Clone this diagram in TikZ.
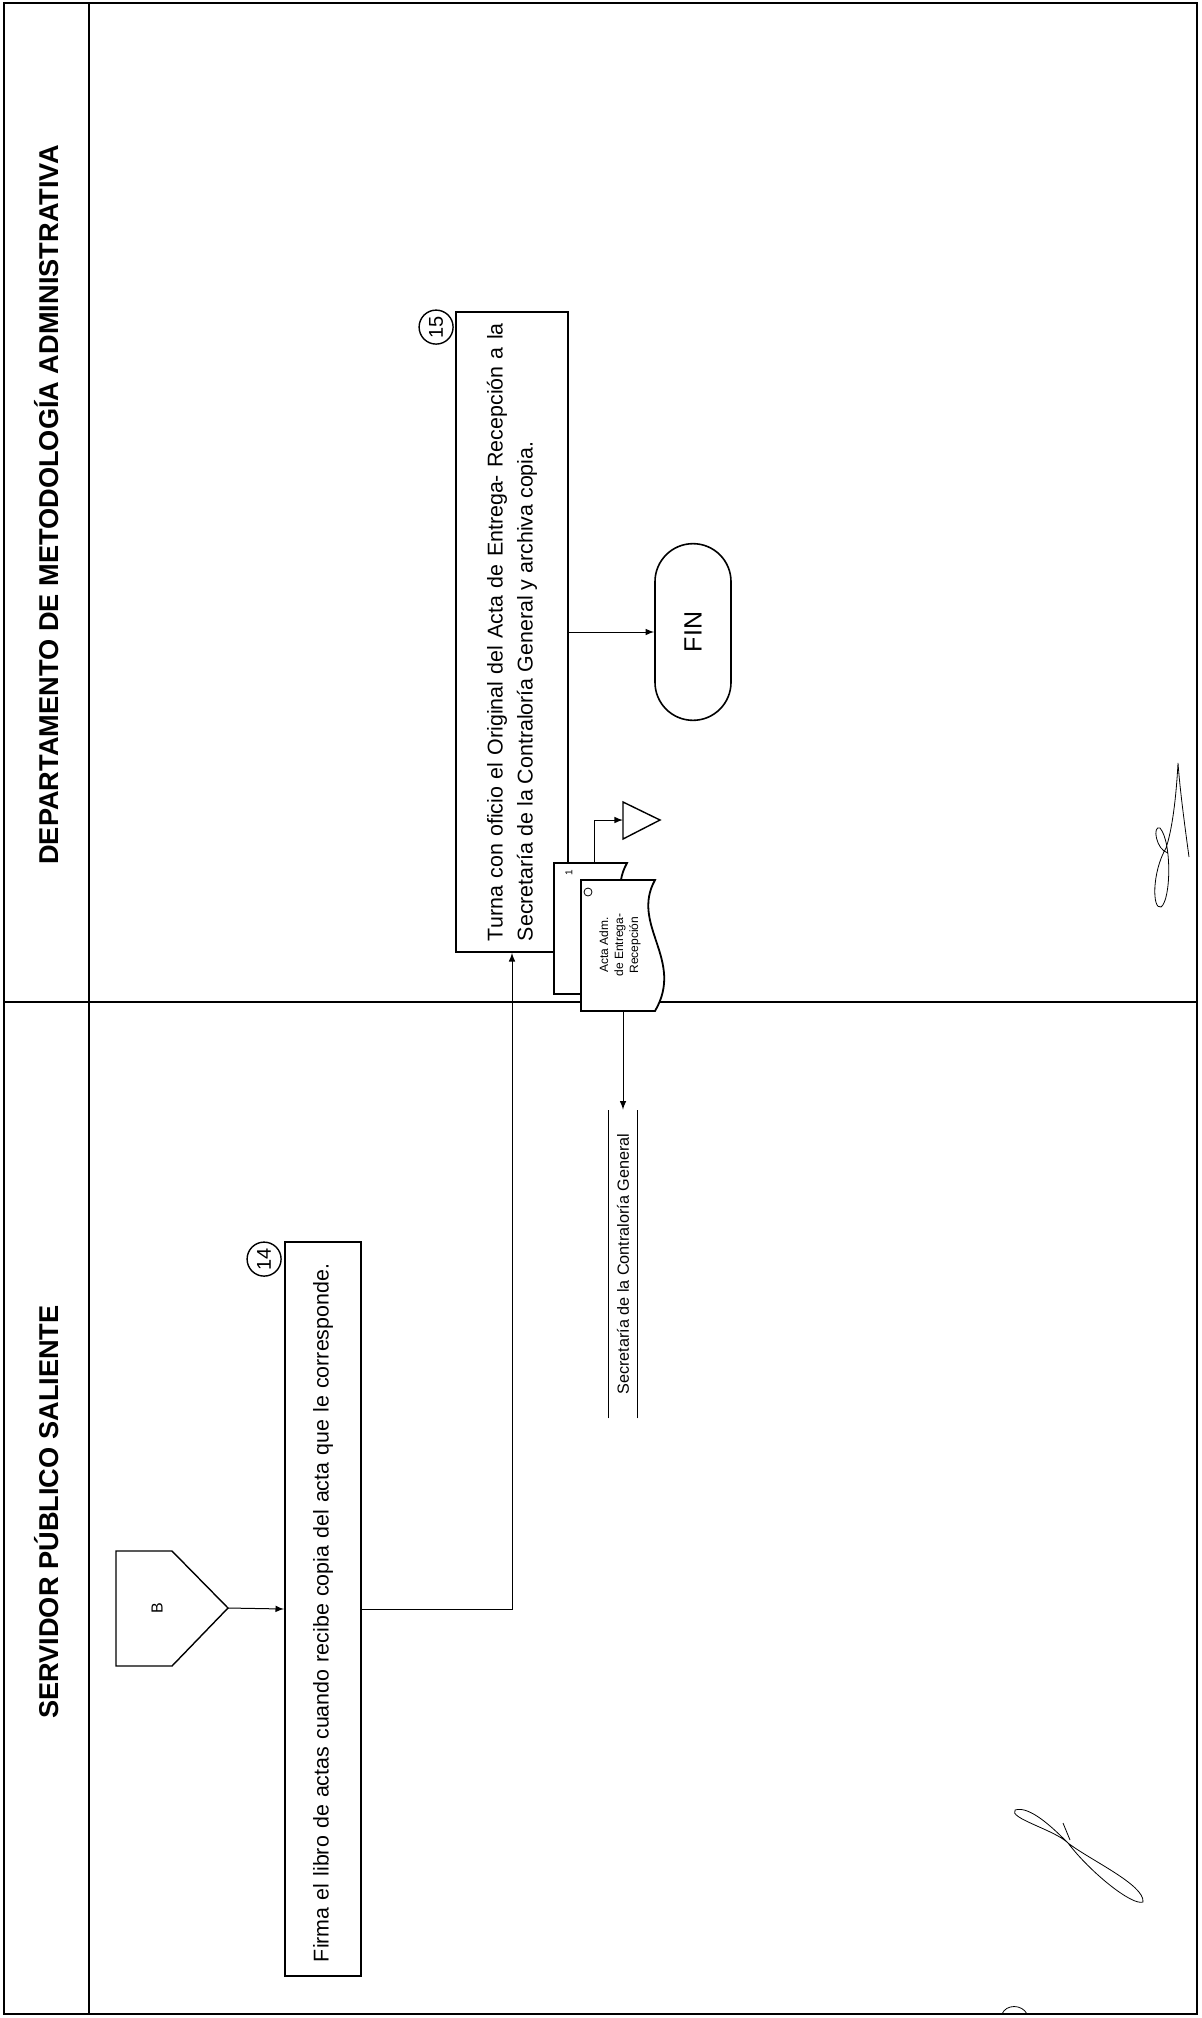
\documentclass[tikz,border=0pt]{standalone}
\usepackage{fontspec}
\setmainfont{Liberation Sans}
\usetikzlibrary{positioning,calc,shapes.misc}

\begin{document}
\begin{tikzpicture}[x=0.5pt,y=-0.5pt]
    \tikzset{proceso/.style={draw, line width=0.9pt, fill=white, rotate=90, inner sep=0pt,
        font=\fontsize{10.7}{15}\selectfont},
      numero/.style={draw, circle, rotate=90, inner sep=0pt, minimum size=17pt, line width=0.7pt,
        font=\fontsize{10}{10}\selectfont},
      carril/.style={rotate=90, font=\fontsize{13.6}{13.6}\selectfont\bfseries},
      documento/.style={draw, line width=0.9pt, fill=white},
      flecha/.style={-latex, line width=0.5pt},
      firma/.style={line width=0.4pt}
    }
    \useasboundingbox (0,0) rectangle (1201,2018);

    % marco y carriles
    \draw[line width=0.8pt] (4,3) rectangle (1197,2014);
    \draw[line width=0.6pt] (89,3) -- (89,2014);
    \draw[line width=0.8pt] (4,1002) -- (1197,1002);
    \node[carril] (L1) at (47,505) {DEPARTAMENTO DE METODOLOGÍA ADMINISTRATIVA};
    \node[carril] (L2) at (47,1512) {SERVIDOR PÚBLICO SALIENTE};

    % conector B
    \draw[line width=0.7pt] (116,1551) -- (172,1551) -- (228,1608) -- (172,1666) -- (116,1666) -- cycle;
    \node[rotate=90, font=\fontsize{8}{8}\selectfont] (B) at (157,1608) {B};
    \coordinate (Bp) at (228,1608);

    \node[proceso, minimum width=367pt, minimum height=38pt, text width=353pt, align=left] (P14) at (323,1609)
      {Firma el libro de actas cuando recibe copia del acta que le corresponde.};
    \node[numero] (N14) at ($(P14.north east)+(-20,18)$) {14};

    \node[proceso, minimum width=320pt, minimum height=56pt, text width=309pt, align=justify] (P15) at (512,632)
      {Turna con oficio el Original del Acta de Entrega- Recepción a la\linebreak Secretaría de la Contraloría General y archiva copia.};
    \node[numero] (N15) at ($(P15.north east)+(-19,16)$) {15};

    \node[draw, rounded rectangle, rotate=90, minimum width=95pt, minimum height=38pt, line width=0.8pt,
      font=\fontsize{12.5}{12.5}\selectfont] (FIN) at (693,632) {FIN};

    % documentos
    \draw[documento] (554,863) -- (627,863) .. controls (602,908) and (657,943) .. (627,994) -- (554,994) -- cycle;
    \node[rotate=90, inner sep=0pt, font=\fontsize{5}{5}\selectfont] (C1) at (569,873) {1};
    \draw[documento] (581,880) -- (655,880) .. controls (630,925) and (685,960) .. (655,1011) -- (581,1011) -- cycle;
    \node[draw, circle, inner sep=0pt, minimum size=4pt, line width=0.4pt] (C0) at (588,892) {};
    \node[rotate=90, align=center, font=\fontsize{6}{7.5}\selectfont] (ACTA) at (620,945)
      {Acta Adm.\\de Entrega-\\Recepción};
    \coordinate (D1) at (594,863);
    \coordinate (D0) at (623,1011);

    % archivo
    \draw[line width=0.7pt] (623,802) -- (660,820) -- (623,839) -- cycle;
    \coordinate (ARCH) at (623,820);

    \node[rotate=90, minimum width=154pt, minimum height=14pt, inner sep=0pt,
      font=\fontsize{8.1}{8.1}\selectfont] (SCG) at (623,1264) {Secretaría de la Contraloría General};
    \draw[line width=0.7pt] (SCG.north west) -- (SCG.north east) (SCG.south west) -- (SCG.south east);

    \draw[flecha] (Bp) -- (P14.north);
    \draw[flecha] (P14.south) -| (P15.west);
    \draw[flecha] (P15.south) -- (FIN.north);
    \draw[flecha] (D1) |- (ARCH);
    \draw[flecha] (D0) -- (SCG.east);

    % firmas
    \draw[firma] (1189,857) .. controls (1184,820) and (1180,790) .. (1178,763)
      .. controls (1176,800) and (1172,830) .. (1166,848)
      .. controls (1152,872) and (1152,910) .. (1161,907)
      .. controls (1171,900) and (1172,842) .. (1160,828)
      .. controls (1152,825) and (1156,850) .. (1168,853);
    \draw[firma] (1015,1810) .. controls (1030,1805) and (1055,1830) .. (1068,1843)
      .. controls (1090,1860) and (1145,1885) .. (1143,1902)
      .. controls (1132,1906) and (1090,1872) .. (1068,1843)
      .. controls (1055,1830) and (1008,1818) .. (1015,1810);
    \draw[firma] (1063,1823) -- (1070,1840);
    \draw[firma] (1002,2014) .. controls (1006,2004) and (1022,2004) .. (1027,2014);
  \end{tikzpicture}
\end{document}
